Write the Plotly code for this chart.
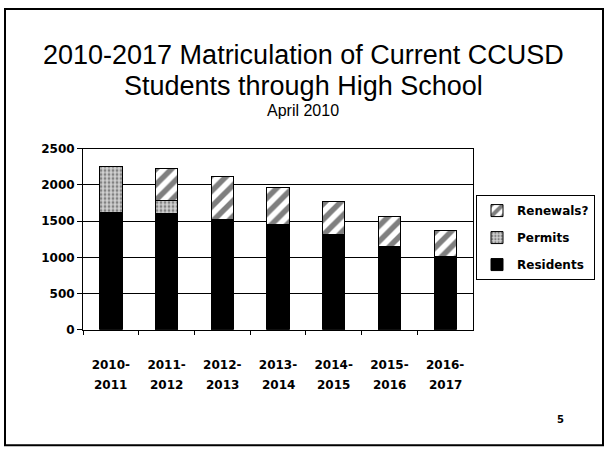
import plotly.graph_objects as go

# ---- data ----
categories = ["2010-2011", "2011-2012", "2012-2013", "2013-2014",
              "2014-2015", "2015-2016", "2016-2017"]
tick_line1 = ["2010-", "2011-", "2012-", "2013-", "2014-", "2015-", "2016-"]
tick_line2 = ["2011", "2012", "2013", "2014", "2015", "2016", "2017"]
residents = [1620, 1600, 1520, 1450, 1310, 1150, 1015]
permits = [630, 180, 0, 0, 0, 0, 0]
renewals = [0, 440, 600, 515, 465, 415, 360]
y_ticks = [0, 500, 1000, 1500, 2000, 2500]

W, H = 606, 458
BOLD = "DejaVu Sans"

fig = go.Figure()
fig.add_trace(go.Bar(
    x=categories, y=residents, name="<b>Residents</b>",
    marker=dict(color="black", line=dict(color="black", width=1)),
    legendgroup="c", legendrank=3))
fig.add_trace(go.Bar(
    x=categories, y=permits, name="<b>Permits</b>",
    marker=dict(color="white", line=dict(color="black", width=1),
                pattern=dict(shape=".", fgcolor="#333333", bgcolor="#d0d0d0",
                             size=4, solidity=0.4)),
    legendgroup="b", legendrank=2))
fig.add_trace(go.Bar(
    x=categories, y=renewals, name="<b>Renewals?</b>",
    marker=dict(color="white", line=dict(color="black", width=1),
                pattern=dict(shape="/", fgcolor="black", bgcolor="white",
                             size=11, solidity=0.5)),
    legendgroup="a", legendrank=1))

x0, x1 = 83 / W, 473 / W
y0, y1 = (H - 333) / H, (H - 146) / H

fig.update_layout(
    width=W, height=H,
    margin=dict(l=0, r=0, t=0, b=0),
    paper_bgcolor="white", plot_bgcolor="white",
    barmode="stack", bargap=0.6,
    font=dict(family=BOLD, size=12, color="black"),
    legend=dict(x=476 / W, y=(H - 194) / H, xanchor="left", yanchor="top",
                bordercolor="black", borderwidth=1, bgcolor="white",
                traceorder="grouped", tracegroupgap=8,
                itemwidth=30,
                font=dict(family=BOLD, size=12, color="black")),
    xaxis=dict(domain=[x0, x1], tickmode="array", tickvals=categories,
               ticktext=["<b>%s</b>" % t for t in tick_line1],
               ticks="outside", tickson="boundaries", ticklen=4,
               tickcolor="black", showline=True, linecolor="black",
               linewidth=1, mirror=True, ticklabelstandoff=24,
               tickfont=dict(family=BOLD, size=12, color="black")),
    yaxis=dict(domain=[y0, y1], range=[0, 2500], tickvals=y_ticks,
               ticktext=["<b>%d</b>" % v for v in y_ticks],
               ticks="outside", ticklen=5, tickcolor="black",
               showline=True, linecolor="black", linewidth=1, mirror=True,
               showgrid=True, gridcolor="black", gridwidth=1,
               zeroline=False,
               tickfont=dict(family=BOLD, size=12, color="black")),
)

# second line of category labels
for c, t in zip(categories, tick_line2):
    fig.add_annotation(x=c, xref="x", y=(H - 390) / H, yref="paper",
                       yanchor="middle",
                       text="<b>%s</b>" % t, showarrow=False,
                       font=dict(family=BOLD, size=12, color="black"))

# titles
fig.add_annotation(x=0.5, xref="paper", y=(H - 50) / H, yref="paper",
                   yanchor="middle",
                   text="2010-2017 Matriculation of Current CCUSD",
                   showarrow=False,
                   font=dict(family="Liberation Sans", size=27, color="black"))
fig.add_annotation(x=0.5, xref="paper", y=(H - 81) / H, yref="paper",
                   yanchor="middle",
                   text="Students through High School", showarrow=False,
                   font=dict(family="Liberation Sans", size=27, color="black"))
fig.add_annotation(x=0.5, xref="paper", y=(H - 107) / H, yref="paper",
                   yanchor="middle",
                   text="April 2010", showarrow=False,
                   font=dict(family="Liberation Sans", size=16, color="black"))
# page number
fig.add_annotation(x=566 / W, xref="paper", y=(H - 425) / H, yref="paper",
                   yanchor="middle",
                   text="<b>5</b>", showarrow=False,
                   font=dict(family=BOLD, size=10, color="black"))

# slide frame
fig.add_shape(type="rect", xref="paper", yref="paper",
              x0=5 / W, x1=603 / W, y0=(H - 452) / H, y1=(H - 2) / H,
              line=dict(color="black", width=2))

fig.write_html("out.html")
